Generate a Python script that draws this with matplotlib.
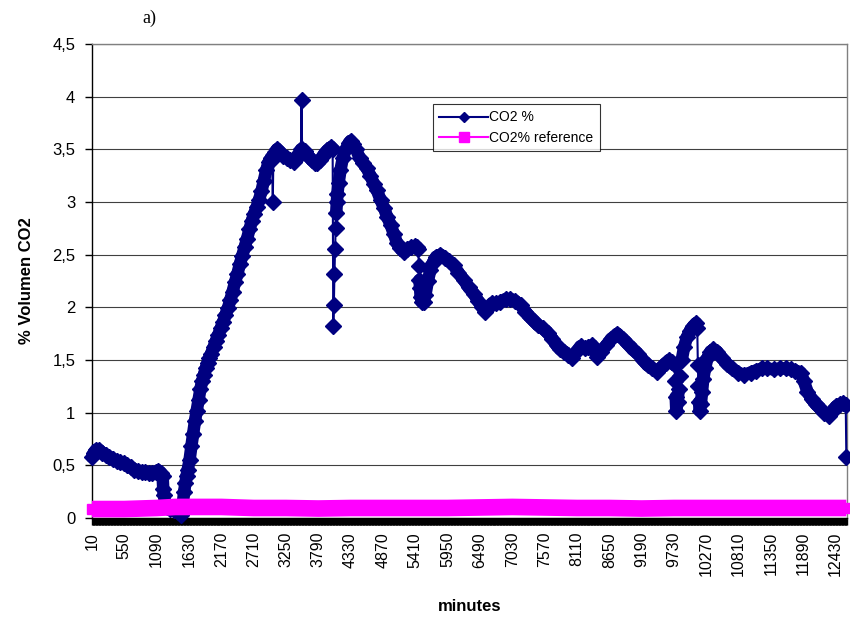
import matplotlib
matplotlib.use("Agg")
import matplotlib.pyplot as plt
from matplotlib.lines import Line2D
from matplotlib.collections import LineCollection
from matplotlib.ticker import MultipleLocator

plt.rcParams["font.family"] = ["Liberation Sans", "DejaVu Sans"]

# CO2 % (minutes, value)
co2_min = [10, 40, 80, 120, 180, 240, 300, 360, 420, 480, 540, 600, 660, 720, 780,
           840, 900, 960, 1020, 1080, 1120, 1160, 1190, 1200, 1210, 1230, 1260, 1320,
           1380, 1440, 1500, 1510, 1530, 1550, 1570, 1590, 1610, 1640, 1670, 1700,
           1730, 1760, 1790, 1820, 1850, 1880, 1910, 1940, 1970, 2000, 2040, 2080,
           2120, 2160, 2200, 2240, 2280, 2320, 2360, 2400, 2440, 2480, 2520, 2560,
           2600, 2640, 2680, 2720, 2760, 2800, 2840, 2880, 2920, 2960, 3000, 3020,
           3030, 3040, 3070, 3100, 3140, 3200, 3260, 3320, 3380, 3430, 3480, 3500,
           3510, 3520, 3560, 3620, 3680, 3740, 3770, 3820, 3880, 3940, 4000, 4030,
           4040, 4050, 4060, 4070, 4080, 4090, 4100, 4110, 4130, 4160, 4200, 4250,
           4300, 4330, 4370, 4420, 4480, 4540, 4600, 4660, 4720, 4770, 4830, 4890,
           4940, 5000, 5050, 5105, 5160, 5215, 5280, 5340, 5400, 5440, 5460, 5470,
           5480, 5490, 5500, 5520, 5550, 5580, 5620, 5660, 5700, 5760, 5830, 5900,
           5970, 6050, 6130, 6220, 6300, 6385, 6460, 6530, 6580, 6640, 6690, 6760,
           6830, 6920, 7000, 7080, 7170, 7250, 7320, 7390, 7460, 7540, 7620, 7700,
           7770, 7835, 7900, 7960, 8030, 8100, 8170, 8250, 8300, 8365, 8410, 8450,
           8520, 8600, 8680, 8785, 8880, 8960, 9040, 9125, 9210, 9290, 9370, 9450,
           9520, 9590, 9650, 9700, 9740, 9750, 9760, 9770, 9790, 9810, 9830, 9860,
           9900, 9950, 10000, 10050, 10100, 10120, 10130, 10140, 10150, 10160, 10180,
           10200, 10220, 10250, 10290, 10340, 10390, 10450, 10530, 10620, 10700,
           10800, 10900, 11010, 11100, 11200, 11290, 11400, 11500, 11600, 11680,
           11760, 11845, 11900, 11960, 12030, 12100, 12170, 12240, 12320, 12380,
           12440, 12500, 12560, 12600, 12610]
co2_val = [0.58, 0.62, 0.65, 0.65, 0.62, 0.60, 0.58, 0.56, 0.54, 0.53, 0.52, 0.50, 0.48,
           0.46, 0.45, 0.44, 0.44, 0.43, 0.43, 0.44, 0.45, 0.43, 0.40, 0.28, 0.22, 0.15,
           0.10, 0.09, 0.08, 0.06, 0.03, 0.05, 0.15, 0.25, 0.33, 0.40, 0.46, 0.55, 0.68,
           0.80, 0.92, 1.02, 1.12, 1.22, 1.30, 1.36, 1.42, 1.47, 1.52, 1.56, 1.62, 1.68,
           1.74, 1.80, 1.86, 1.93, 1.99, 2.07, 2.15, 2.24, 2.32, 2.41, 2.49, 2.57, 2.65,
           2.74, 2.82, 2.89, 2.95, 3.02, 3.10, 3.20, 3.30, 3.38, 3.42, 3.40, 3.00, 3.42,
           3.47, 3.50, 3.48, 3.44, 3.42, 3.40, 3.38, 3.42, 3.47, 3.50, 3.97, 3.50, 3.48,
           3.44, 3.40, 3.37, 3.37, 3.40, 3.45, 3.49, 3.52, 3.50, 1.82, 2.02, 2.32, 2.55,
           2.75, 2.90, 3.00, 3.08, 3.18, 3.30, 3.42, 3.50, 3.56, 3.58, 3.55, 3.50, 3.42,
           3.37, 3.32, 3.25, 3.17, 3.11, 3.02, 2.94, 2.86, 2.78, 2.70, 2.61, 2.56, 2.53,
           2.55, 2.57, 2.58, 2.57, 2.55, 2.39, 2.26, 2.18, 2.10, 2.05, 2.05, 2.12, 2.25,
           2.35, 2.42, 2.48, 2.50, 2.47, 2.44, 2.40, 2.33, 2.26, 2.19, 2.13, 2.06, 2.00,
           1.96, 2.00, 2.04, 2.04, 2.05, 2.08, 2.08, 2.06, 2.02, 1.96, 1.91, 1.87, 1.83,
           1.80, 1.76, 1.70, 1.64, 1.60, 1.58, 1.55, 1.52, 1.58, 1.63, 1.61, 1.62, 1.64,
           1.58, 1.53, 1.58, 1.64, 1.70, 1.75, 1.70, 1.65, 1.60, 1.56, 1.50, 1.45, 1.42,
           1.39, 1.43, 1.47, 1.50, 1.48, 1.45, 1.30, 1.15, 1.02, 1.10, 1.22, 1.35, 1.50,
           1.62, 1.72, 1.78, 1.82, 1.85, 1.80, 1.45, 1.25, 1.10, 1.02, 1.08, 1.20, 1.32,
           1.42, 1.52, 1.58, 1.60, 1.58, 1.52, 1.46, 1.42, 1.38, 1.36, 1.38, 1.40, 1.42,
           1.42, 1.41, 1.42, 1.42, 1.41, 1.40, 1.38, 1.30, 1.20, 1.13, 1.08, 1.04, 1.00,
           0.97, 1.02, 1.06, 1.08, 1.09, 1.07, 0.58]

# CO2% reference
ref_min = [10, 550, 1090, 1400, 1630, 2170, 2710, 3250, 3790, 4330, 4870, 5410, 5950,
           6490, 7030, 7570, 8110, 8650, 9190, 9730, 10270, 10810, 11350, 11890, 12430,
           12610]
ref_val = [0.085, 0.085, 0.095, 0.105, 0.105, 0.105, 0.095, 0.095, 0.09, 0.095, 0.095,
           0.095, 0.095, 0.10, 0.105, 0.10, 0.095, 0.095, 0.09, 0.095, 0.095, 0.095,
           0.095, 0.095, 0.095, 0.095]

x_ticks = [10, 550, 1090, 1630, 2170, 2710, 3250, 3790, 4330, 4870, 5410, 5950, 6490,
           7030, 7570, 8110, 8650, 9190, 9730, 10270, 10810, 11350, 11890, 12430]
y_ticks = [0, 0.5, 1, 1.5, 2, 2.5, 3, 3.5, 4, 4.5]
y_labels = ["0", "0,5", "1", "1,5", "2", "2,5", "3", "3,5", "4", "4,5"]

navy = "#000080"
pink = "#FF00FF"

fig = plt.figure(figsize=(8.5, 6.18), dpi=100)
ax = fig.add_axes([0.1082, 0.1618, 0.8882, 0.767])

# the densely sampled record piles its markers into a solid band;
# big jumps between readings stay as a thin line
band = []
for i in range(len(co2_val) - 1):
    if abs(co2_val[i + 1] - co2_val[i]) <= 0.13:
        band.append([(co2_min[i], co2_val[i]), (co2_min[i + 1], co2_val[i + 1])])
lc = LineCollection(band, colors=navy, linewidths=9, capstyle="round",
                    joinstyle="round", clip_on=False, zorder=3)
ax.add_collection(lc)

ax.plot(co2_min, co2_val, color=navy, lw=1.5, marker="D", ms=8, mec=navy,
        clip_on=False, zorder=3)
ax.plot(ref_min, ref_val, color=pink, lw=12, solid_capstyle="butt",
        marker="s", ms=7, mec=pink, clip_on=False, zorder=4)

ax.set_xlim(10, 12620)
ax.set_ylim(0, 4.5)

ax.set_yticks(y_ticks)
ax.set_yticklabels(y_labels, fontsize=12)
ax.set_xticks(x_ticks)
ax.set_xticklabels([str(t) for t in x_ticks], rotation=90, fontsize=11.5)
ax.xaxis.set_minor_locator(MultipleLocator(10))
ax.tick_params(axis="x", which="both", length=5, width=1, color="black", pad=5)
ax.tick_params(axis="y", length=5, width=1, pad=7)

ax.grid(axis="y", color="#404040", lw=0.8)
ax.set_axisbelow(True)
for side in ["top", "right"]:
    ax.spines[side].set_color("#808080")
    ax.spines[side].set_linewidth(1)
ax.spines["left"].set_linewidth(1)
ax.spines["bottom"].set_linewidth(1)

ax.set_ylabel("% Volumen CO2", fontsize=12, fontweight="bold", labelpad=13)
ax.set_xlabel("minutes", fontsize=12, fontweight="bold", labelpad=16)

fig.text(0.176, 0.971, "a)", fontsize=13, family="Liberation Serif",
         ha="center", va="center")

handles = [
    Line2D([], [], color=navy, lw=1.5, marker="D", ms=5, mec=navy),
    Line2D([], [], color=pink, lw=1.5, marker="s", ms=7, mec=pink),
]
leg = ax.legend(handles, ["CO2 %", "CO2% reference"], loc="upper left",
                bbox_to_anchor=(0.4517, 0.873), fontsize=10, frameon=True,
                fancybox=False, edgecolor="black", handlelength=3.5,
                labelspacing=0.45, borderpad=0.45, handletextpad=0.1,
                borderaxespad=0)
leg.get_frame().set_linewidth(0.8)

fig.savefig("out.png", dpi=100)
